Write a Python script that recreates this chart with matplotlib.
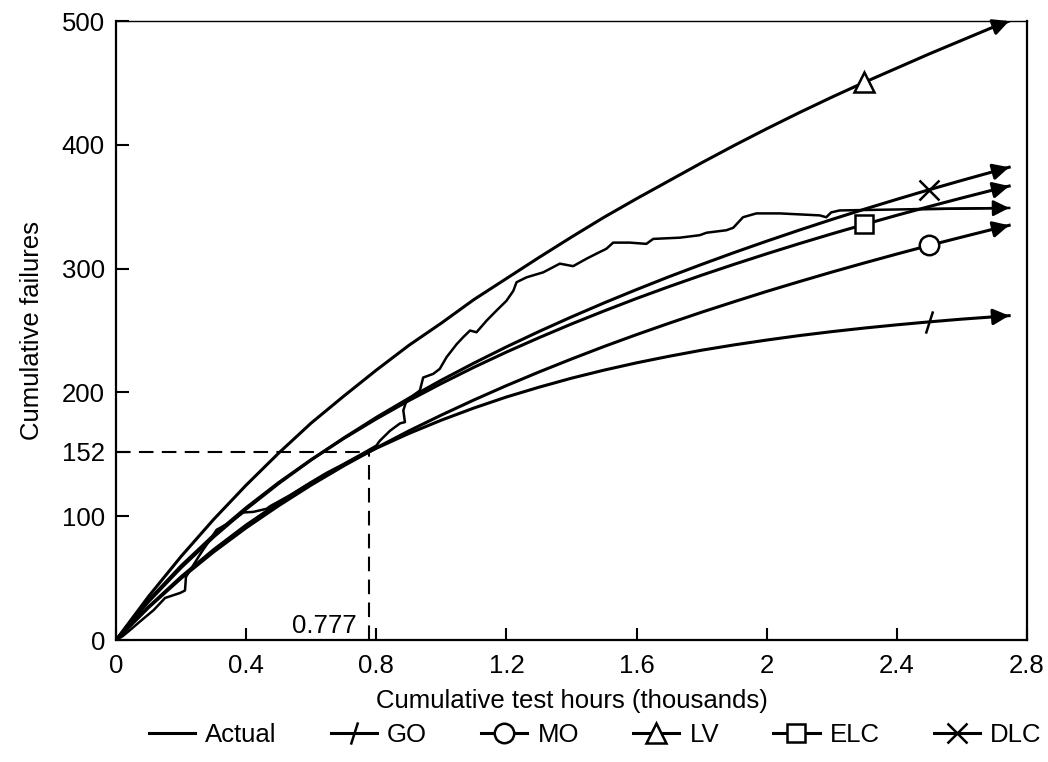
import matplotlib
matplotlib.use("Agg")
import matplotlib.pyplot as plt
from matplotlib.path import Path
from matplotlib.lines import Line2D

plt.rcParams['font.family'] = ['Liberation Sans', 'DejaVu Sans']
FS = 18.5

# ---------------- data ----------------
hours = [0.0, 0.1, 0.2, 0.3, 0.4, 0.5, 0.6, 0.7, 0.8, 0.9, 1.0, 1.1, 1.2, 1.3,
         1.4, 1.5, 1.6, 1.7, 1.8, 1.9, 2.0, 2.1, 2.2, 2.3, 2.4, 2.5, 2.6, 2.7, 2.745]

go = [0, 26.8, 51.1, 73.0, 92.9, 110.8, 127.0, 141.6, 154.9, 166.8, 177.6, 187.4,
      196.3, 204.2, 211.5, 218.0, 223.9, 229.2, 234.1, 238.4, 242.3, 245.9, 249.1,
      252.0, 254.6, 257.0, 259.2, 261.1, 262.0]
mo = [0, 26.2, 49.8, 71.1, 90.6, 108.5, 125.2, 140.7, 155.2, 168.9, 181.7, 193.9,
      205.5, 216.5, 227.0, 237.1, 246.7, 255.9, 264.8, 273.3, 281.6, 289.5, 297.2,
      304.6, 311.8, 318.8, 325.5, 332.1, 335.0]
lv = [0, 35.2, 67.5, 97.4, 125.1, 151.0, 175.3, 197.0, 218.0, 238.0, 256.0, 275.0,
      292.0, 309.0, 325.5, 341.5, 356.5, 371.0, 385.5, 399.5, 413.0, 426.0, 438.5,
      450.5, 462.0, 473.5, 484.5, 495.5, 500.0]
elc = [0, 32.0, 59.9, 84.7, 106.9, 127.2, 145.7, 162.8, 178.6, 193.4, 207.2, 220.3,
       232.6, 244.2, 255.3, 265.8, 275.9, 285.5, 294.7, 303.5, 312.0, 320.2, 328.1,
       335.7, 343.1, 350.2, 357.1, 363.8, 366.7]
dlc = [0, 30.9, 58.4, 83.2, 105.7, 126.4, 145.5, 163.2, 179.8, 195.3, 209.9, 223.7,
       236.8, 249.2, 261.0, 272.3, 283.1, 293.5, 303.4, 313.0, 322.2, 331.1, 339.7,
       348.0, 356.0, 363.8, 371.3, 378.6, 381.9]

actual_x = [0.0, 0.02, 0.043, 0.074, 0.115, 0.151, 0.197, 0.212, 0.215, 0.227, 0.258,
            0.268, 0.289, 0.309, 0.35, 0.391, 0.422, 0.463, 0.473, 0.535, 0.596, 0.647,
            0.698, 0.76, 0.80, 0.811, 0.842, 0.873, 0.888, 0.883, 0.893, 0.934, 0.944,
            0.975, 0.995, 1.016, 1.047, 1.067, 1.088, 1.108, 1.139, 1.169, 1.2, 1.221,
            1.231, 1.262, 1.313, 1.364, 1.405, 1.446, 1.476, 1.507, 1.528, 1.579, 1.63,
            1.651, 1.733, 1.794, 1.815, 1.876, 1.897, 1.927, 1.968, 2.04, 2.163, 2.183,
            2.198, 2.224, 2.45, 2.745]
actual_y = [0, 3, 8, 15, 24, 34, 38, 40, 51, 56, 69, 73, 81, 89, 95, 103, 103.5, 106,
            108, 117, 127, 135, 142, 151, 157, 161, 169, 175, 176, 185.5, 193.5, 201.6,
            212, 215, 219, 228.5, 239, 244.6, 250, 248.6, 258, 266, 274, 282, 289, 293,
            297, 304, 302, 308, 312, 316, 321, 321, 320, 324, 325, 327, 329, 331, 333,
            341.5, 344.6, 344.6, 343, 341.5, 345.4, 347, 348, 349]

ref_x = 0.777
ref_y = 152

x_ticks = [0, 0.4, 0.8, 1.2, 1.6, 2.0, 2.4, 2.8]
x_tick_labels = ['0', '0.4', '0.8', '1.2', '1.6', '2', '2.4', '2.8']
y_ticks = [0, 100, 152, 200, 300, 400, 500]
y_tick_labels = ['0', '100', '152', '200', '300', '400', '500']

labels = ['Actual', 'GO', 'MO', 'LV', 'ELC', 'DLC']
# ---------------------------------------------------------------

slash = Path([(-0.32, -1.0), (0.32, 1.0)], [Path.MOVETO, Path.LINETO])

fig = plt.figure(figsize=(10.48, 7.62), dpi=100)
ax = fig.add_axes([0.1107, 0.1601, 0.8693, 0.8123])

LW = 2.2
models = [
    (go, slash, 16, 25),
    (mo, 'o', 14, 25),
    (lv, '^', 15, 23),
    (elc, 's', 13, 23),
    (dlc, 'x', 14, 25),
]

def arrow_end(xs, ys, lw):
    ax.annotate('', xy=(xs[-1], ys[-1]), xytext=(xs[-2], ys[-2]),
                arrowprops=dict(arrowstyle='-|>', color='black', lw=lw,
                                mutation_scale=24, shrinkA=0, shrinkB=0),
                annotation_clip=False)

# actual data
ax.plot(actual_x, actual_y, color='black', lw=1.8, solid_joinstyle='round')
arrow_end(actual_x, actual_y, 1.8)

for ys, mk, ms, idx in models:
    ax.plot(hours, ys, color='black', lw=LW, marker=mk, markersize=ms,
            markevery=[idx], markerfacecolor='white', markeredgecolor='black',
            markeredgewidth=1.8)
    arrow_end(hours, ys, LW)

# dashed reference lines
ax.plot([0, ref_x], [ref_y, ref_y], color='black', lw=1.5, dashes=(7, 4))
ax.plot([ref_x, ref_x], [0, ref_y], color='black', lw=1.5, dashes=(7, 4))
ax.text(0.741, 5.7, f'{ref_x}', ha='right', va='baseline', fontsize=FS)

ax.set_xlim(0, 2.8)
ax.set_ylim(0, 500)
ax.set_xticks(x_ticks)
ax.set_xticklabels(x_tick_labels)
ax.set_yticks(y_ticks)
ax.set_yticklabels(y_tick_labels)
ax.tick_params(direction='in', length=9, width=1.5, labelsize=FS, pad=10)
ax.tick_params(axis='y', pad=8)
for s in ['left', 'bottom', 'right']:
    ax.spines[s].set_linewidth(1.6)
ax.spines['top'].set_linewidth(1.0)

ax.set_xlabel('Cumulative test hours (thousands)', fontsize=FS, labelpad=8)
ax.set_ylabel('Cumulative failures', fontsize=FS, labelpad=13)

handles = [Line2D([], [], color='black', lw=LW)]
for ys, mk, ms, idx in models:
    handles.append(Line2D([], [], color='black', lw=LW, marker=mk, markersize=ms,
                          markerfacecolor='white', markeredgecolor='black',
                          markeredgewidth=1.8))
fig.legend(handles, labels, loc='center', bbox_to_anchor=(0.568, 0.035), ncol=6,
           frameon=False, fontsize=FS, handlelength=1.8, handletextpad=0.4,
           columnspacing=2.1)

fig.savefig('out.png', dpi=100)
